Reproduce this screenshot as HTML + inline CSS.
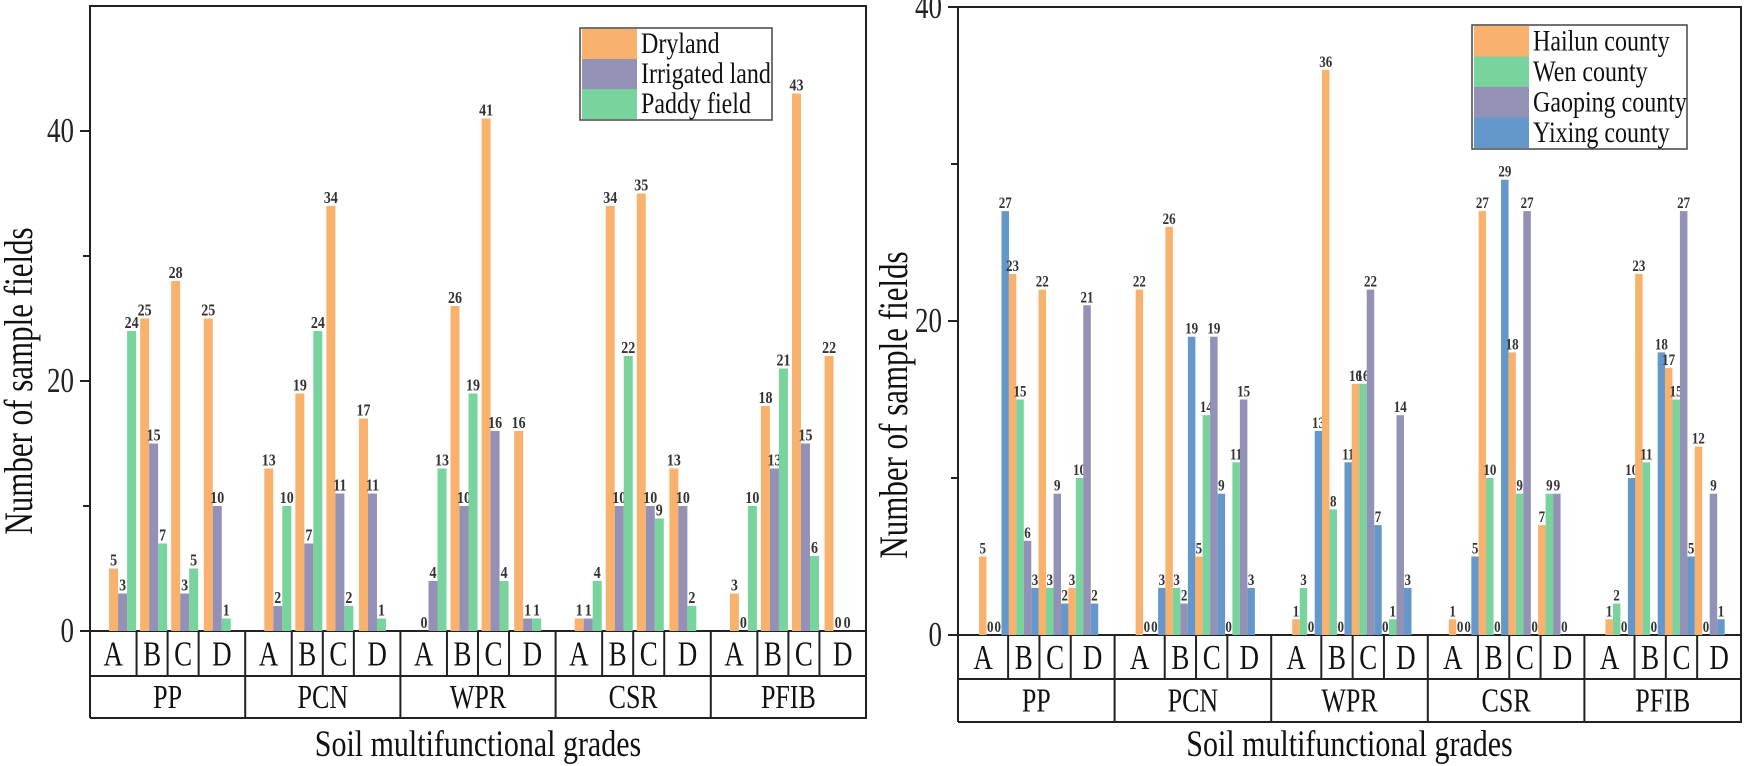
<!DOCTYPE html>
<html><head><meta charset="utf-8">
<style>
html,body{margin:0;padding:0;background:#fff;}
svg{display:block;font-family:"Liberation Serif",serif;}
</style></head>
<body>
<svg id="chart" width="1748" height="766" viewBox="0 0 1748 766" xmlns="http://www.w3.org/2000/svg"></svg>
<script>
// ---- data ----
const groups = ["PP","PCN","WPR","CSR","PFIB"];
const grades = ["A","B","C","D"];
const leftSeriesNames = ["Dryland","Irrigated land","Paddy field"];
const leftDryland   = [[5,25,28,25],[13,19,34,17],[0,26,41,16],[1,34,35,13],[3,18,43,22]];
const leftIrrigated = [[3,15,3,10],[2,7,11,11],[4,10,16,1],[1,10,10,10],[0,13,15,0]];
const leftPaddy     = [[24,7,5,1],[10,24,2,1],[13,19,4,1],[4,22,9,2],[10,21,6,0]];
const leftTicks = [0,20,40];
const leftMinorTicks = [10,30];
const rightSeriesNames = ["Hailun county","Wen county","Gaoping county","Yixing county"];
const rightHailun  = [[5,23,22,3],[22,26,5,0],[1,36,16,0],[1,27,18,7],[1,23,17,12]];
const rightWen     = [[0,15,3,10],[0,3,14,11],[3,8,16,1],[0,10,9,9],[2,11,15,0]];
const rightGaoping = [[0,6,9,21],[0,2,19,15],[0,0,22,14],[0,0,27,9],[0,0,27,9]];
const rightYixing  = [[27,3,2,2],[3,19,9,3],[13,11,7,3],[5,29,0,0],[10,18,5,1]];
const rightTicks = [0,20,40];
const rightMinorTicks = [10,30];

const svg = document.getElementById('chart');
const NS = "http://www.w3.org/2000/svg";
function mk(tag, attrs, parent){
  const e = document.createElementNS(NS, tag);
  for (const k in attrs) e.setAttribute(k, attrs[k]);
  (parent||svg).appendChild(e);
  return e;
}
// stretched text (reference glyphs are vertically elongated)
function txt(x, y, str, fs, anchor, sy, parent, extra){
  const a = {x:0, y:0, 'text-anchor':anchor, 'font-size':fs, fill:'#111',
    transform:`translate(${x},${y}) scale(1,${sy})`};
  if (extra) for (const k in extra) a[k] = extra[k];
  const t = mk('text', a, parent);
  t.textContent = str;
  return t;
}

function drawPanel(cfg){
  const g = mk('g', {});
  
  
  const x0 = cfg.x0, x1 = cfg.x1, top = cfg.top, y0 = cfg.y0;
  const yScale = v => y0 - v * cfg.ppu;
  const gw = (x1 - x0) / groups.length;
  const frame = mk('path', {d:`M${x0},${cfg.rowB} L${x0},${top} L${x1},${top} L${x1},${cfg.rowB} L${x0},${cfg.rowB}`, fill:'none', stroke:'#222', 'stroke-width':2}, g);
  
  
  mk('line', {x1:x0-10, y1:y0, x2:x1, y2:y0, stroke:'#222','stroke-width':2}, g);
  mk('line', {x1:x0, y1:cfg.rowA, x2:x1, y2:cfg.rowA, stroke:'#222','stroke-width':2}, g);
  cfg.ticks.forEach(t => {
    const y = yScale(t);
    if (t !== 0) mk('line', {x1:x0-10, y1:y, x2:x0, y2:y, stroke:'#222','stroke-width':2}, g);
    const tl = txt(x0-16, y+11, String(t), 27, 'end', 1.3, g, {fill:'#222'});
    
    
  });
  cfg.minor.forEach(t => {
    const y = yScale(t);
    mk('line', {x1:x0-7, y1:y, x2:x0, y2:y, stroke:'#222','stroke-width':2}, g);
  });
  groups.forEach((gn, gi) => {
    const gx = x0 + gi * gw;
    if (gi > 0) mk('line', {x1:gx, y1:y0, x2:gx, y2:cfg.rowB, stroke:'#222','stroke-width':2}, g);
    const gl = txt(gx + gw/2, (cfg.rowA+cfg.rowB)/2 + 11, gn, 26, 'middle', 1.3, g);
    
    
    grades.forEach((gr, ri) => {
      const cs = gx + cfg.cells[ri] * gw, ce = gx + cfg.cells[ri+1] * gw;
      if (ri > 0) mk('line', {x1:cs, y1:y0, x2:cs, y2:cfg.rowA, stroke:'#222','stroke-width':2}, g);
      const cl = txt((cs+ce)/2, (y0+cfg.rowA)/2 + 12, gr, 27, 'middle', 1.3, g);
      
      
      const n = cfg.series.length;
      const cx = gx + cfg.slots[ri] * gw;
      const startX = cx - n * cfg.bw / 2;
      cfg.series.forEach((s, si) => {
        const v = s[gi][ri];
        const bx = startX + si * cfg.bw;
        const by = yScale(v);
        const r = mk('rect', {x:bx, y:by, width:cfg.bw, height:Math.max(0, y0 - by), fill:cfg.colors[si]}, g);
        
        
        const vl = txt(bx + cfg.bw/2, by - 3, String(v), cfg.vfs, 'middle', 1.2, g, {'font-weight':'bold', fill:'#333'});
        
        
      });
    });
  });
  const xt = txt((x0+x1)/2, 756, 'Soil multifunctional grades', 30, 'middle', 1.25, g);
  
  
  const yt = mk('text', {x:0, y:0, 'text-anchor':'middle', 'font-size':31, fill:'#111', transform:`translate(${cfg.ytx},${cfg.yty}) rotate(-90) scale(1,1.3)`}, g);
  yt.textContent = 'Number of sample fields';
  
  
  const lg = mk('g', {}, g);
  
  
  const L = cfg.legend;
  mk('rect', {x:L.x, y:L.y, width:L.w, height:L.rh*cfg.names.length+2, fill:'#fff', stroke:'#444','stroke-width':1.5}, lg);
  cfg.names.forEach((nm, i) => {
    const e = mk('g', {}, lg);
    
    
    mk('rect', {x:L.x+2, y:L.y+1+i*L.rh, width:L.sw, height:L.rh, fill:cfg.colors[i]}, e);
    txt(L.x+L.sw+6, L.y+1+i*L.rh+L.rh*0.8, nm, L.fs, 'start', 1.25, e);
  });
}

drawPanel({
  name:'left-chart', x0:90, x1:866, top:6, y0:631, ppu:12.5, rowA:676, rowB:718,
  ticks:leftTicks, minor:leftMinorTicks,
  cells:[0,0.30,0.50,0.70,1], slots:[0.21,0.41,0.61,0.82], bw:9, vfs:14,
  series:[leftDryland,leftIrrigated,leftPaddy], names:leftSeriesNames,
  colors:['#F8B26E','#9391B5','#78D39C'],
  ytx:32, yty:381,
  legend:{x:580, y:28, w:192, rh:30, sw:55, fs:24}
});
drawPanel({
  name:'right-chart', x0:958, x1:1741, top:7, y0:635, ppu:15.7, rowA:679, rowB:722,
  ticks:rightTicks, minor:rightMinorTicks,
  cells:[0,0.32,0.52,0.72,1], slots:[0.23,0.42,0.61,0.80], bw:7.5, vfs:13,
  series:[rightHailun,rightWen,rightGaoping,rightYixing], names:rightSeriesNames,
  colors:['#F8B26E','#78D39C','#9391B5','#6498CB'],
  ytx:907, yty:405,
  legend:{x:1472, y:25, w:215, rh:30.5, sw:55, fs:24}
});
</script>
</body></html>
